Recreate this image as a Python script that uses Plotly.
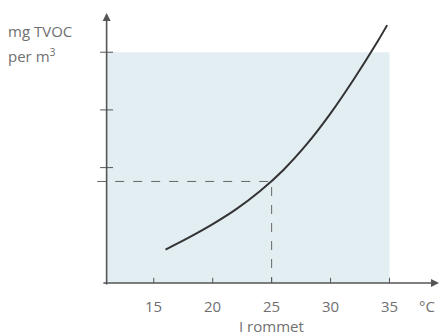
import plotly.graph_objects as go

# Room temperature (°C) and TVOC emission (mg per m³)
temps = [16, 18, 20, 22, 24, 26, 28, 30, 32, 34, 34.8]
tvoc = [0.58, 0.79, 1.02, 1.28, 1.59, 1.96, 2.41, 2.94, 3.54, 4.19, 4.47]

x_ticks = [15, 20, 25, 30, 35]
y_ticks = [2, 3, 4]
ref_temp = 25
ref_tvoc = 1.76

x_origin = 11
x_min, x_max = 10.1, 39.2
y_min, y_max = 0, 4.68
band_x = (11, 35)
band_y = (0, 4)

axis_col = "#555555"
text_col = "#707070"
font = "Open Sans"
fsize = 15

fig = go.Figure()

# shaded region
fig.add_shape(type="rect", xref="x", yref="y",
              x0=band_x[0], x1=band_x[1], y0=band_y[0], y1=band_y[1],
              fillcolor="#e3eef2", line_width=0, layer="below")

# reference guide lines at 25 °C
fig.add_trace(go.Scatter(x=[x_min + 0.1, ref_temp, ref_temp], y=[ref_tvoc, ref_tvoc, 0],
                         mode="lines", line=dict(color="#666666", width=1, dash="dash"),
                         hoverinfo="skip", showlegend=False))

# emission curve
fig.add_trace(go.Scatter(x=temps, y=tvoc, mode="lines", line_shape="spline",
                         line=dict(color="#333333", width=2),
                         showlegend=False, cliponaxis=False))

# axes with arrowheads
fig.add_annotation(x=x_max, y=0, ax=x_origin - 0.4, ay=0, xref="x", yref="y",
                   axref="x", ayref="y", showarrow=True, arrowhead=2, arrowsize=1,
                   arrowwidth=1.6, arrowcolor=axis_col, text="")
fig.add_annotation(x=x_origin, y=y_max, ax=x_origin, ay=-0.05, xref="x", yref="y",
                   axref="x", ayref="y", showarrow=True, arrowhead=2, arrowsize=1,
                   arrowwidth=1.6, arrowcolor=axis_col, text="")

# crossing tick marks
for t in x_ticks:
    fig.add_shape(type="line", xref="x", yref="y", x0=t, x1=t, y0=-0.09, y1=0.09,
                  line=dict(color=axis_col, width=1))
for t in y_ticks:
    fig.add_shape(type="line", xref="x", yref="y", x0=x_origin - 0.55, x1=x_origin + 0.55,
                  y0=t, y1=t, line=dict(color=axis_col, width=1))

# tick labels
for t in x_ticks:
    fig.add_annotation(x=t, y=0, xref="x", yref="y", yshift=-23, text=str(t),
                       showarrow=False, font=dict(family=font, size=fsize, color=text_col))
fig.add_annotation(x=38.2, y=0, xref="x", yref="y", yshift=-23, text="°C",
                   showarrow=False, font=dict(family=font, size=fsize, color=text_col))
fig.add_annotation(x=ref_temp, y=0, xref="x", yref="y", yshift=-43, text="I rommet",
                   showarrow=False, font=dict(family=font, size=fsize, color=text_col))

# y-axis title
fig.add_annotation(xref="paper", yref="paper", x=-0.262, y=1.0, yshift=-18,
                   xanchor="left", yanchor="middle", text="mg TVOC", showarrow=False,
                   font=dict(family=font, size=fsize, color=text_col))
fig.add_annotation(xref="paper", yref="paper", x=-0.262, y=1.0, yshift=-42,
                   xanchor="left", yanchor="middle", text="per m<sup>3</sup>", showarrow=False,
                   font=dict(family=font, size=fsize, color=text_col))

fig.update_layout(
    width=445, height=336,
    margin=dict(l=96, r=6, t=13, b=53),
    paper_bgcolor="white", plot_bgcolor="white",
    xaxis=dict(range=[x_min, x_max], visible=False),
    yaxis=dict(range=[y_min, y_max], visible=False),
)

fig.write_html("out.html")
